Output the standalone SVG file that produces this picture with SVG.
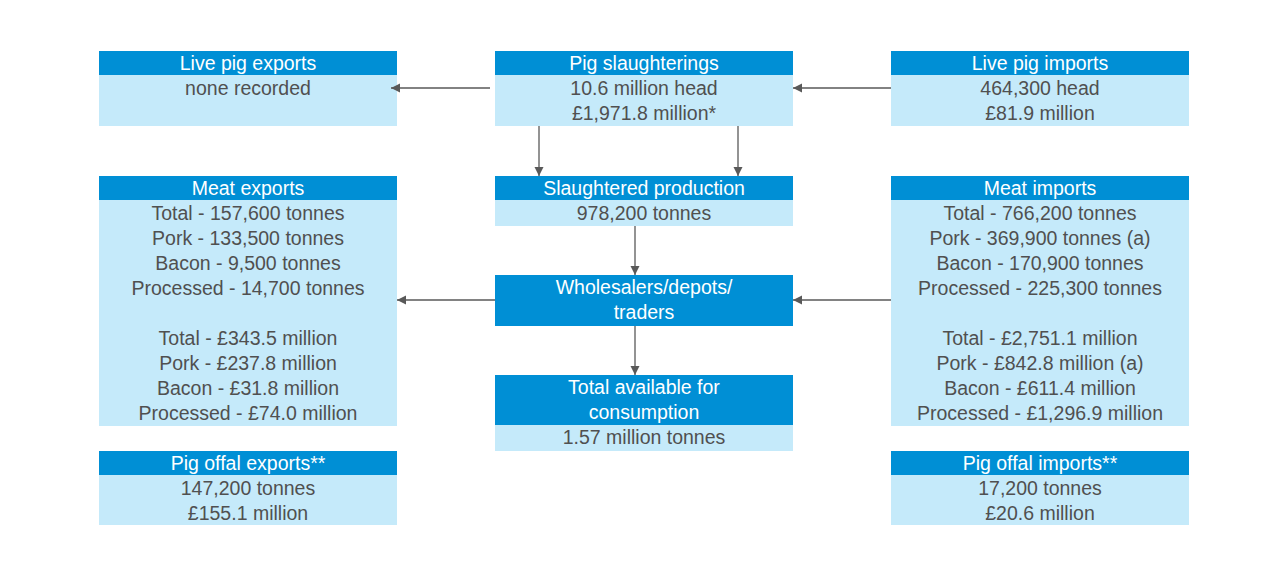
<svg xmlns="http://www.w3.org/2000/svg" width="1288" height="573" viewBox="0 0 1288 573">
<defs>
<style>
.hd{fill:#008FD5}
.bd{fill:#C5EAFA}
.ht{font-family:"Liberation Sans",Arial,sans-serif;font-size:19.5px;fill:#FFFFFF;text-anchor:middle}
.bt{font-family:"Liberation Sans",Arial,sans-serif;font-size:19.5px;fill:#505050;text-anchor:middle}
.cn{stroke:#595959;stroke-width:1.3;fill:none;marker-end:url(#ah)}
</style>
<marker id="ah" markerUnits="userSpaceOnUse" markerWidth="10" markerHeight="10" refX="9" refY="4.5" orient="auto">
<path d="M0,0 L9,4.5 L0,9 Z" fill="#595959"/>
</marker>
</defs>
<rect width="1288" height="573" fill="#FFFFFF"/>
<g id="live-pig-exports">
<rect class="bd" x="99" y="51" width="298" height="75"/>
<rect class="hd" x="99" y="51" width="298" height="24"/>
<text class="ht" x="248" y="70">Live pig exports</text>
<text class="bt" x="248" y="95">none recorded</text>
</g>
<g id="pig-slaughterings">
<rect class="bd" x="495" y="51" width="298" height="75"/>
<rect class="hd" x="495" y="51" width="298" height="24"/>
<text class="ht" x="644" y="70">Pig slaughterings</text>
<text class="bt" x="644" y="95">10.6 million head</text>
<text class="bt" x="644" y="120">£1,971.8 million*</text>
</g>
<g id="live-pig-imports">
<rect class="bd" x="891" y="51" width="298" height="75"/>
<rect class="hd" x="891" y="51" width="298" height="24"/>
<text class="ht" x="1040" y="70">Live pig imports</text>
<text class="bt" x="1040" y="95">464,300 head</text>
<text class="bt" x="1040" y="120">£81.9 million</text>
</g>
<g id="meat-exports">
<rect class="bd" x="99" y="176" width="298" height="250"/>
<rect class="hd" x="99" y="176" width="298" height="24"/>
<text class="ht" x="248" y="195">Meat exports</text>
<text class="bt" x="248" y="220">Total - 157,600 tonnes</text>
<text class="bt" x="248" y="245">Pork - 133,500 tonnes</text>
<text class="bt" x="248" y="270">Bacon - 9,500 tonnes</text>
<text class="bt" x="248" y="295">Processed - 14,700 tonnes</text>
<text class="bt" x="248" y="345">Total - £343.5 million</text>
<text class="bt" x="248" y="370">Pork - £237.8 million</text>
<text class="bt" x="248" y="395">Bacon - £31.8 million</text>
<text class="bt" x="248" y="420">Processed - £74.0 million</text>
</g>
<g id="slaughtered-production">
<rect class="bd" x="495" y="176" width="298" height="50"/>
<rect class="hd" x="495" y="176" width="298" height="24"/>
<text class="ht" x="644" y="195">Slaughtered production</text>
<text class="bt" x="644" y="220">978,200 tonnes</text>
</g>
<g id="meat-imports">
<rect class="bd" x="891" y="176" width="298" height="250"/>
<rect class="hd" x="891" y="176" width="298" height="24"/>
<text class="ht" x="1040" y="195">Meat imports</text>
<text class="bt" x="1040" y="220">Total - 766,200 tonnes</text>
<text class="bt" x="1040" y="245">Pork - 369,900 tonnes (a)</text>
<text class="bt" x="1040" y="270">Bacon - 170,900 tonnes</text>
<text class="bt" x="1040" y="295">Processed - 225,300 tonnes</text>
<text class="bt" x="1040" y="345">Total - £2,751.1 million</text>
<text class="bt" x="1040" y="370">Pork - £842.8 million (a)</text>
<text class="bt" x="1040" y="395">Bacon - £611.4 million</text>
<text class="bt" x="1040" y="420">Processed - £1,296.9 million</text>
</g>
<g id="wholesalers">
<rect class="hd" x="495" y="275" width="298" height="51"/>
<text class="ht" x="644" y="294">Wholesalers/depots/</text>
<text class="ht" x="644" y="319">traders</text>
</g>
<g id="total-available">
<rect class="bd" x="495" y="375" width="298" height="76"/>
<rect class="hd" x="495" y="375" width="298" height="50"/>
<text class="ht" x="644" y="394">Total available for</text>
<text class="ht" x="644" y="419">consumption</text>
<text class="bt" x="644" y="444">1.57 million tonnes</text>
</g>
<g id="pig-offal-exports">
<rect class="bd" x="99" y="451" width="298" height="74"/>
<rect class="hd" x="99" y="451" width="298" height="24"/>
<text class="ht" x="248" y="470">Pig offal exports**</text>
<text class="bt" x="248" y="495">147,200 tonnes</text>
<text class="bt" x="248" y="520">£155.1 million</text>
</g>
<g id="pig-offal-imports">
<rect class="bd" x="891" y="451" width="298" height="74"/>
<rect class="hd" x="891" y="451" width="298" height="24"/>
<text class="ht" x="1040" y="470">Pig offal imports**</text>
<text class="bt" x="1040" y="495">17,200 tonnes</text>
<text class="bt" x="1040" y="520">£20.6 million</text>
</g>
<g id="connectors">
<line class="cn" x1="490" y1="88" x2="391" y2="88"/>
<line class="cn" x1="891" y1="88" x2="793" y2="88"/>
<line class="cn" x1="539" y1="126" x2="539" y2="176"/>
<line class="cn" x1="738" y1="126" x2="738" y2="176"/>
<line class="cn" x1="635" y1="226" x2="635" y2="275"/>
<line class="cn" x1="635" y1="326" x2="635" y2="375"/>
<line class="cn" x1="495" y1="300" x2="397" y2="300"/>
<line class="cn" x1="891" y1="300" x2="793" y2="300"/>
</g>
</svg>
